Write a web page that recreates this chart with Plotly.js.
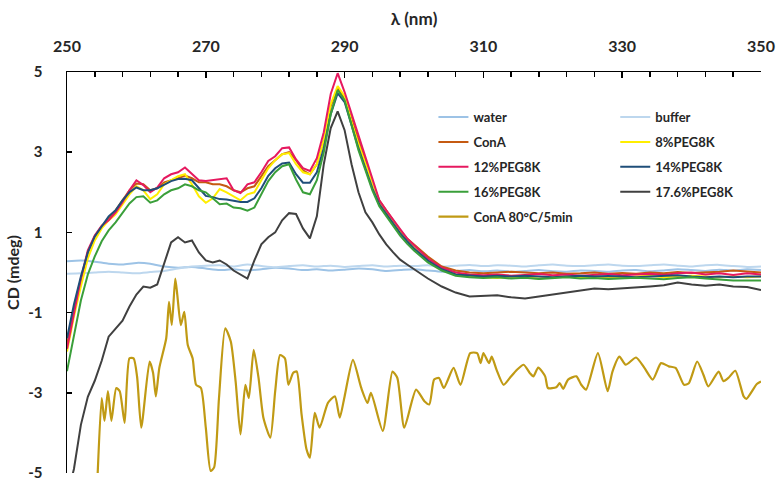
<!DOCTYPE html>
<html><head><meta charset="utf-8">
<script src="https://cdn.plot.ly/plotly-3.0.1.min.js"></script>
<style>body{margin:0;padding:0;background:#fff}#chart{width:776px;height:481px}</style>
</head><body><div id="chart"></div>
<script>
// wavelength grid (nm) for the protein spectra
const wl = [250,251,252,253,254,255,256,257,258,259,
  260,261,262,263,264,265,266,267,268,269,
  270,271,272,273,274,275,276,277,278,279,
  280,281,282,283,284,285,286,287,288,289,
  290,291,292,293,294,295,296,297,298,299,
  300,
  302,304,306,308,310,312,314,316,318,320,
  322,324,326,328,330,332,334,336,338,340,
  342,344,346,348,350];

// wavelength grid for water / buffer baselines
const wlBase = [250,252,254,256,258,260,262,264,266,268,
  270,272,274,276,278,280,282,284,286,288,
  290,292,294,296,298,300,302,304,306,308,
  310,312,314,316,318,320,322,324,326,328,
  330,332,334,336,338,340,342,344,346,348,
  350];

const water = [0.28,0.3,0.27,0.22,0.2,0.24,0.22,0.15,0.12,0.14,
  0.1,0.06,0.08,0.05,0.08,0.12,0.1,0.06,0.08,0.05,
  0.07,0.1,0.08,0.04,0.06,0.08,0.05,0.02,0.04,0.06,
  0.03,0.05,0.02,0.04,0.06,0.03,0.02,0.05,0.04,0.02,
  0.05,0.06,0.03,0.05,0.08,0.06,0.04,0.07,0.05,0.08,
  0.06];

const buffer = [-0.03,-0.02,0.0,0.02,0.0,-0.02,0.01,0.04,0.1,0.15,
  0.17,0.18,0.15,0.2,0.16,0.13,0.16,0.18,0.15,0.17,
  0.14,0.16,0.18,0.15,0.17,0.16,0.18,0.15,0.17,0.19,
  0.16,0.18,0.17,0.15,0.18,0.2,0.17,0.16,0.18,0.2,
  0.17,0.16,0.18,0.2,0.17,0.15,0.18,0.19,0.16,0.14,
  0.15];

const conA = [-1.8,-0.95,-0.2,0.5,0.9,1.15,1.35,1.55,1.8,2.05,
  2.22,2.2,2.05,2.1,2.25,2.3,2.35,2.42,2.35,2.25,
  2.25,2.2,2.2,2.15,2.05,2.0,2.1,2.15,2.4,2.65,
  2.8,2.95,3.0,2.8,2.55,2.45,2.7,3.3,4.15,4.6,
  4.35,3.8,3.3,2.8,2.25,1.8,1.55,1.3,1.05,0.85,
  0.7,
  0.4,0.15,0.05,0.0,-0.02,0.0,0.02,0.0,-0.02,0.0,
  -0.03,-0.02,0.0,-0.03,-0.01,-0.03,0.0,-0.02,0.01,-0.01,
  0.0,0.02,0.05,0.03,0.0];

const peg8 = [-1.97,-1.1,-0.35,0.35,0.8,1.1,1.3,1.45,1.7,1.95,
  2.15,2.05,1.83,1.95,2.2,2.3,2.4,2.45,2.2,1.9,
  1.74,1.85,2.08,2.0,1.9,1.8,1.95,2.0,2.3,2.6,
  2.8,2.95,2.98,2.7,2.5,2.45,2.7,3.3,4.2,4.65,
  4.4,3.75,3.2,2.7,2.2,1.75,1.5,1.25,1.0,0.8,
  0.62,
  0.3,0.08,-0.05,-0.1,-0.12,-0.14,-0.1,-0.12,-0.15,-0.12,
  -0.1,-0.13,-0.1,-0.12,-0.14,-0.1,-0.08,-0.12,-0.1,-0.08,
  -0.1,-0.12,-0.1,-0.12,-0.1];

const peg12 = [-1.9,-1.0,-0.15,0.55,0.92,1.17,1.3,1.5,1.75,2.05,
  2.3,2.18,2.0,2.12,2.35,2.45,2.5,2.62,2.45,2.3,
  2.28,2.3,2.32,2.35,2.05,1.98,2.2,2.25,2.5,2.78,
  2.9,3.1,3.12,2.82,2.6,2.53,2.85,3.5,4.45,4.97,
  4.5,3.95,3.45,2.9,2.3,1.8,1.55,1.3,1.08,0.85,
  0.68,
  0.35,0.12,0.0,-0.05,-0.07,-0.05,-0.08,-0.06,-0.04,-0.07,
  -0.05,-0.08,-0.06,-0.04,-0.07,-0.05,-0.03,-0.06,-0.02,0.0,
  -0.05,-0.02,-0.06,-0.02,-0.05];

const peg14 = [-1.64,-0.8,-0.1,0.5,0.9,1.15,1.4,1.55,1.8,2.0,
  2.12,2.05,2.05,2.1,2.2,2.28,2.33,2.34,2.3,2.1,
  1.91,1.88,1.83,1.82,1.79,1.76,1.76,1.85,2.1,2.41,
  2.6,2.72,2.74,2.45,2.24,2.24,2.5,3.1,3.95,4.47,
  4.25,3.65,3.1,2.6,2.1,1.7,1.45,1.2,0.98,0.78,
  0.6,
  0.3,0.08,-0.05,-0.08,-0.1,-0.08,-0.1,-0.08,-0.1,-0.12,
  -0.1,-0.08,-0.1,-0.09,-0.1,-0.12,-0.1,-0.08,-0.07,-0.1,
  -0.12,-0.1,-0.12,-0.1,-0.1];

const peg16 = [-2.46,-1.6,-0.7,-0.05,0.4,0.78,1.05,1.25,1.5,1.72,
  1.88,1.9,1.74,1.8,1.95,2.05,2.1,2.2,2.15,2.05,
  2.0,1.85,1.7,1.72,1.62,1.6,1.54,1.62,1.95,2.28,
  2.5,2.65,2.7,2.32,2.0,1.95,2.3,3.0,3.95,4.55,
  4.3,3.65,3.05,2.55,2.05,1.65,1.4,1.15,0.92,0.72,
  0.55,
  0.25,0.05,-0.08,-0.12,-0.14,-0.12,-0.15,-0.13,-0.16,-0.14,
  -0.12,-0.15,-0.14,-0.16,-0.15,-0.13,-0.15,-0.17,-0.14,-0.12,
  -0.15,-0.18,-0.2,-0.2,-0.2];

const peg176 = [-5.6,-4.9,-3.8,-3.1,-2.7,-2.2,-1.6,-1.4,-1.2,-0.85,
  -0.55,-0.35,-0.38,-0.3,0.25,0.75,0.88,0.75,0.8,0.5,
  0.3,0.25,0.3,0.2,0.05,-0.05,-0.15,0.3,0.7,0.88,
  1.0,1.3,1.48,1.46,1.1,0.85,1.4,2.7,3.6,4.02,
  3.55,2.7,2.0,1.5,1.25,0.95,0.7,0.5,0.32,0.2,
  0.08,
  -0.15,-0.35,-0.5,-0.6,-0.58,-0.57,-0.62,-0.65,-0.6,-0.55,
  -0.5,-0.45,-0.4,-0.42,-0.4,-0.38,-0.35,-0.32,-0.25,-0.3,
  -0.33,-0.3,-0.35,-0.36,-0.44];

// heat-denatured ConA (read point by point)
const heatX = [254.4,255.0,255.4,255.9,256.4,257.1,257.6,258.3,259.0,259.6,
  260.1,260.7,261.9,262.4,262.8,263.3,264.3,264.7,265.1,265.6,
  265.9,266.4,266.9,267.4,268.1,268.6,269.3,270.0,270.7,271.2,
  271.9,272.8,273.6,274.3,275.0,275.7,276.2,276.9,277.6,278.3,
  279.3,280.0,280.7,281.4,281.9,282.6,283.1,283.8,284.5,285.0,
  285.7,286.4,287.6,288.6,289.3,290.0,291.2,292.4,293.3,293.8,
  295.5,296.9,297.6,298.6,300.3,301.5,302.2,302.9,303.6,304.3,
  305.7,306.7,308.1,309.1,309.6,310.0,310.8,311.2,311.9,312.9,
  313.8,314.8,315.8,316.7,317.2,317.9,318.9,319.3,320.5,321.0,
  321.5,322.2,323.4,324.1,324.8,326.5,327.9,328.6,329.6,330.5,
  332.0,333.2,334.4,335.6,336.7,337.7,338.9,339.6,340.8,341.7,
  342.4,343.9,344.6,345.3,346.3,347.5,347.9,349.4,350.0];
const heatY = [-5.1,-3.13,-3.7,-2.96,-3.7,-2.88,-2.96,-3.75,-2.14,-2.14,
  -2.6,-3.87,-2.22,-2.5,-3.09,-2.38,-1.64,-0.73,-1.31,-0.15,
  -0.57,-1.31,-0.98,-1.81,-2.14,-2.8,-2.88,-3.87,-4.95,-4.86,
  -3.13,-1.39,-1.72,-2.72,-4.04,-2.8,-3.13,-1.93,-2.63,-3.62,
  -4.12,-2.96,-2.06,-2.14,-2.8,-2.5,-2.47,-3.54,-4.4,-4.62,
  -3.5,-3.87,-3.25,-3.09,-3.62,-3.09,-2.18,-2.88,-3.25,-3.0,
  -3.95,-2.47,-2.63,-3.87,-2.92,-3.21,-3.29,-2.67,-2.63,-2.88,
  -2.38,-2.8,-2.01,-2.01,-2.26,-2.01,-2.26,-2.1,-2.43,-2.8,
  -2.63,-2.43,-2.3,-2.51,-2.59,-2.37,-2.59,-2.88,-2.86,-2.76,
  -2.9,-2.67,-2.59,-2.8,-2.92,-2.01,-2.96,-2.47,-2.1,-2.3,
  -2.12,-2.38,-2.67,-2.26,-2.34,-2.38,-2.8,-2.76,-2.22,-2.55,
  -2.84,-2.47,-2.71,-2.63,-2.45,-3.09,-3.15,-2.78,-2.72];

const yTicks = [-5,-3,-1,1,3,5];

const FONT = 'Lato, "Open Sans", sans-serif';

function trace(name, x, y, color, legend, width, shape) {
  return {
    type: 'scatter', mode: 'lines', name: name, x: x, y: y,
    legend: legend, legendgroup: name,
    line: {color: color, width: width || 2, shape: shape || 'linear', smoothing: 0.6}
  };
}

const data = [
  trace('water', wlBase, water, '#9dc3e6', 'legend', 2, 'spline'),
  trace('buffer', wlBase, buffer, '#bdd7ee', 'legend2', 2, 'spline'),
  trace('ConA', wl, conA, '#c55a11', 'legend'),
  trace('8%PEG8K', wl, peg8, '#ffee00', 'legend2'),
  trace('12%PEG8K', wl, peg12, '#e6195f', 'legend'),
  trace('14%PEG8K', wl, peg14, '#1f4e79', 'legend2'),
  trace('16%PEG8K', wl, peg16, '#3a9f3a', 'legend'),
  trace('17.6%PEG8K', wl, peg176, '#404040', 'legend2'),
  trace('ConA 80°C/5min', heatX, heatY, '#c09a14', 'legend', 2.2, 'spline')
];

const legendBase = {
  yanchor: 'top', xanchor: 'left', y: 0.925,
  bgcolor: 'rgba(0,0,0,0)', borderwidth: 0,
  font: {family: FONT, size: 13, weight: 'bold', color: '#262626'},
  tracegroupgap: 5, itemwidth: 30, traceorder: 'grouped'
};

const layout = {
  width: 776, height: 481,
  margin: {l: 67, r: 15, t: 72, b: 8},
  paper_bgcolor: '#ffffff', plot_bgcolor: '#ffffff',
  showlegend: true,
  legend: Object.assign({}, legendBase, {x: 0.528}),
  legend2: Object.assign({}, legendBase, {x: 0.79}),
  xaxis: {
    side: 'top', range: [250, 350], tick0: 250, dtick: 20,
    ticks: 'inside', ticklen: 6, tickwidth: 1.5, tickcolor: '#000',
    minor: {dtick: 4, tick0: 250, ticks: 'inside', ticklen: 5, tickwidth: 1.5, tickcolor: '#000'},
    showline: true, linecolor: '#000', linewidth: 1.5,
    showgrid: false, zeroline: false, ticklabelstandoff: 12,
    ticklabeloverflow: 'allow',
    tickfont: {family: FONT, size: 16, weight: 'bold', color: '#262626'},
    title: {text: 'λ (nm)', standoff: 6, font: {family: FONT, size: 17, weight: 'bold', color: '#262626'}}
  },
  yaxis: {
    range: [-5, 5], tickvals: yTicks, ticktext: yTicks.map(String),
    ticks: 'inside', ticklen: 5, tickwidth: 1.5, tickcolor: '#000',
    showline: true, linecolor: '#000', linewidth: 1.5,
    showgrid: false, zeroline: false, ticklabelstandoff: 20,
    ticklabeloverflow: 'allow',
    tickfont: {family: FONT, size: 15, weight: 'bold', color: '#262626'},
    title: {text: 'CD (mdeg)', standoff: 4, font: {family: FONT, size: 16, weight: 'bold', color: '#262626'}}
  }
};

Plotly.newPlot('chart', data, layout, {displayModeBar: false, staticPlot: true});
</script>
</body></html>
